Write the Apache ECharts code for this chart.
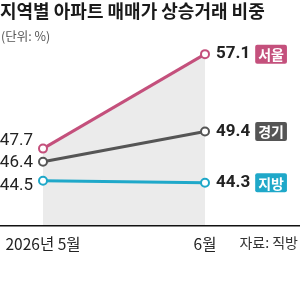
<!DOCTYPE html>
<html><head><meta charset="utf-8">
<script src="https://cdn.jsdelivr.net/npm/echarts@6/dist/echarts.min.js"></script>
<style>html,body{margin:0;padding:0;background:#fff}#c{width:300px;height:293px}</style>
</head><body><div id="c"></div>
<script>
const categories = ['2026년 5월', '6월'];
const seoul = [47.7, 57.1];
const gyeonggi = [46.4, 49.4];
const jibang = [44.5, 44.3];
const seriesNames = ['서울', '경기', '지방'];
const colors = ['#c4507c', '#555555', '#1fa8c9'];
const leftOffsets = [[0, -8], [0, 1], [0, 5]];
const NUM_FONT = 'Roboto, "Noto Sans CJK KR", sans-serif';
const KR_FONT = '"Noto Sans CJK KR", sans-serif';

function makeSeries(name, data, idx, extra) {
  return Object.assign({
    name: name,
    type: 'line',
    data: data.map((v, i) => ({
      value: v,
      label: i === 0 ? {
        show: true, position: 'left', distance: 5, offset: leftOffsets[idx],
        formatter: '{c}', color: '#222', fontSize: 17, fontFamily: NUM_FONT
      } : {
        show: true, position: 'right', distance: 6,
        formatter: p => '{v|' + p.value + '}{g| }{b|' + name + '}',
        rich: {
          v: { color: '#222', fontSize: 17, fontWeight: 'bold', fontFamily: NUM_FONT },
          g: { width: 5 },
          b: { color: '#fff', fontSize: 14, fontWeight: 'bold', fontFamily: KR_FONT,
               backgroundColor: colors[idx], padding: [3, 3, 2, 3], borderRadius: 2 }
        }
      }
    })),
    symbol: 'circle',
    symbolSize: 8,
    showSymbol: true,
    lineStyle: { color: colors[idx], width: 3 },
    itemStyle: { color: '#fff', borderColor: colors[idx], borderWidth: 2 },
    emphasis: { disabled: true },
    animation: false,
    z: 3 + idx
  }, extra || {});
}

const chart = echarts.init(document.getElementById('c'), null, { renderer: 'canvas' });
chart.setOption({
  animation: false,
  title: [
    { text: '지역별 아파트 매매가 상승거래 비중', left: 0, top: 2, padding: 0,
      textStyle: { fontSize: 18, fontWeight: 'bold', color: '#1a1a1a', fontFamily: KR_FONT } },
    { text: '(단위: %)', left: 1, top: 30, padding: 0,
      textStyle: { fontSize: 12.5, fontWeight: 'normal', color: '#555', fontFamily: KR_FONT } },
    { text: '자료: 직방', right: 2, top: 236, padding: 0,
      textStyle: { fontSize: 14, fontWeight: 'normal', color: '#333', fontFamily: KR_FONT } }
  ],
  grid: { left: 43, top: 25, width: 162, height: 201 },
  xAxis: {
    type: 'category', data: categories, boundaryGap: false,
    axisLine: { show: false }, axisTick: { show: false },
    axisLabel: { color: '#222', fontSize: 15.5, fontFamily: KR_FONT, margin: 10 },
    splitLine: { show: false }
  },
  yAxis: {
    type: 'value', min: 40, max: 60, interval: 5,
    show: false
  },
  graphic: [
    { type: 'rect', shape: { x: 0, y: 225, width: 300, height: 1.5 }, style: { fill: '#111' }, z: 10 }
  ],
  series: [
    makeSeries(seriesNames[0], seoul, 0, { areaStyle: { color: '#ebebeb', opacity: 1 } }),
    makeSeries(seriesNames[1], gyeonggi, 1),
    makeSeries(seriesNames[2], jibang, 2)
  ]
});
</script></body></html>
